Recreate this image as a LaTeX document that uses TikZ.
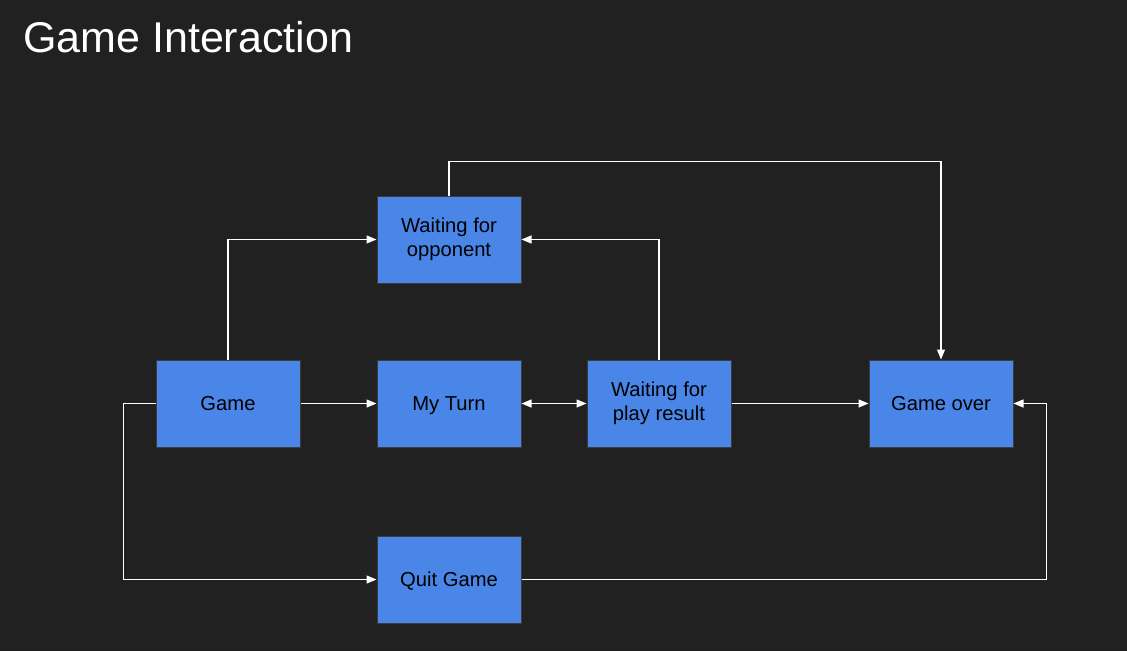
\documentclass[tikz,border=0pt]{standalone}
\usepackage{fontspec}
\setmainfont{Liberation Sans}
\usetikzlibrary{positioning, arrows.meta}
\definecolor{bgdark}{HTML}{212121}
\definecolor{boxblue}{HTML}{4A86E8}
\definecolor{boxedge}{HTML}{3C3C3C}
\tikzset{
    x=1pt, y=-1pt,
    stage/.style={draw=boxedge, fill=boxblue, line width=1pt,
        minimum width=144pt, minimum height=87pt, inner sep=0pt,
        align=center, text=black, font=\fontsize{20.2}{24}\selectfont,
        execute at begin node={\rule{0pt}{18.3pt}},
        execute at end node={\rule[-4.3pt]{0pt}{0pt}}},
    flow/.style={draw=white, line width=1.2pt,
        -{Triangle[length=10pt, width=8pt]}},
}

\begin{document}
\begin{tikzpicture}
    \fill[bgdark] (0,0) rectangle (1127,651);
    \useasboundingbox (0,0) rectangle (1127,651);

    \node[anchor=base west, inner sep=0pt, text=white,
          font=\fontsize{43}{50}\selectfont] (title) at (23,52) {Game Interaction};

    \node[stage] (game) at (228,403.5) {Game};
    \node[stage, right=76pt of game] (myturn) {My Turn};
    \node[stage, right=65pt of myturn] (playres) {Waiting for\\play result};
    \node[stage, right=137pt of playres] (over) {Game over};
    \node[stage, above=76pt of myturn] (opponent) {Waiting for\\opponent};
    \node[stage, below=88pt of myturn] (quit) {Quit Game};

    \draw[flow] (game.north) |- (opponent.west);
    \draw[flow] (game) -- (myturn);
    \draw[flow, {Triangle[length=10pt, width=8pt]}-{Triangle[length=10pt, width=8pt]}] (myturn) -- (playres);
    \draw[flow] (playres.north) |- (opponent.east);
    \draw[flow] (opponent.north) -- ++(0,-34) -| (over.north);
    \draw[flow] (playres) -- (over);
    \draw[flow] (game.west) -- ++(-32,0) |- (quit.west);
    \draw[flow] (quit.east) -- ++(525,0) |- (over.east);
\end{tikzpicture}
\end{document}
